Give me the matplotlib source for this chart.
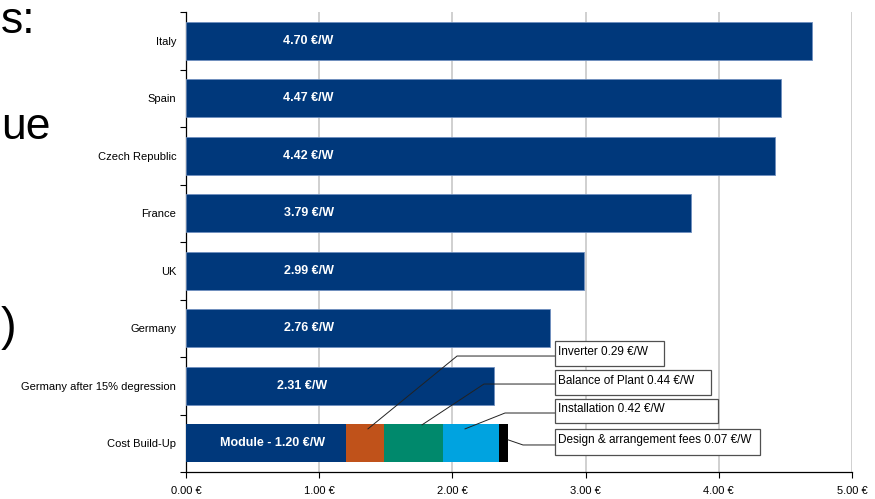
import matplotlib.pyplot as plt
from matplotlib.patches import Rectangle

# data
countries = ['Italy', 'Spain', 'Czech Republic', 'France', 'UK', 'Germany',
             'Germany after 15% degression', 'Cost Build-Up']
costs = [4.70, 4.47, 4.42, 3.79, 2.99, 2.73, 2.31]
cost_labels = ['4.70 €/W', '4.47 €/W', '4.42 €/W', '3.79 €/W', '2.99 €/W', '2.76 €/W', '2.31 €/W']
parts = ['Module', 'Inverter', 'Balance of Plant', 'Installation', 'Design & arrangement fees']
part_costs = [1.20, 0.29, 0.44, 0.42, 0.07]
part_colors = ['#00387b', '#c0521a', '#00896c', '#00a3e0', '#000000']
xticks = [0, 1, 2, 3, 4, 5]

font = ['Liberation Sans', 'DejaVu Sans']
navy = '#00387b'

fig = plt.figure(figsize=(8.75, 4.99), dpi=100)
ax = fig.add_axes([186 / 875, 1 - 472 / 499, 666 / 875, 460 / 499])

n = len(countries)
ypos = [n - 1 - i for i in range(n)]  # Italy on top

# country bars
for i, c in enumerate(costs):
    ax.barh(ypos[i], c, height=0.66, color=navy, edgecolor='#6f8fbf', linewidth=0.6, zorder=3)
    xl = 0.87 if i == 6 else 0.92
    ax.text(xl, ypos[i], cost_labels[i], color='white', fontweight='bold',
            ha='center', va='center', fontsize=9, family=font, zorder=4)

# cost build-up stack
left = 0
for name, v, col in zip(parts, part_costs, part_colors):
    ax.barh(ypos[-1], v, left=left, height=0.66, color=col, linewidth=0, zorder=3)
    left += v
ax.text(0.65, ypos[-1], f'Module - {part_costs[0]:.2f} €/W', color='white', fontweight='bold',
        ha='center', va='center', fontsize=9, family=font, zorder=4)

# call-out boxes with leader lines: (start, elbow, box bottom, box top, box width)
callouts = [
    ((1.366, 0.25), (2.035, 1.517), 1.343, 1.778, 0.818),
    ((1.772, 0.32), (2.237, 1.030), 0.839, 1.274, 1.171),
    ((2.095, 0.25), (2.395, 0.526), 0.352, 0.770, 1.224),
    ((2.417, 0.06), (2.530, -0.030), -0.204, 0.248, 1.539),
]
box_x = 2.77
for (start, elbow, yb, yt, w), name, v in zip(callouts, parts[1:], part_costs[1:]):
    ax.plot([start[0], elbow[0], box_x], [start[1], elbow[1], elbow[1]],
            color='#222222', lw=0.7, zorder=5)
    ax.add_patch(Rectangle((box_x, yb), w, yt - yb, fc='white', ec='#505050', lw=0.9, zorder=6))
    ax.text(box_x + 0.025, (yb + yt) / 2 + 0.03, f'{name} {v:.2f} €/W', ha='left', va='center',
            fontsize=8.5, family=font, zorder=7)

ax.set_xlim(0, 5)
ax.set_ylim(-0.5, n - 0.5)
ax.set_xticks(xticks)
ax.set_xticklabels([f'{t:.2f} €' for t in xticks], fontsize=8, family=font)
ax.set_yticks(ypos)
ax.set_yticklabels(countries, fontsize=8, family=font)
ax.set_yticks([k - 0.5 for k in range(n + 1)], minor=True)
ax.tick_params(axis='y', which='major', length=0, pad=7)
ax.tick_params(axis='y', which='minor', length=4, width=0.8, direction='out')
ax.tick_params(axis='x', length=4, width=0.8, direction='out', pad=6)
ax.xaxis.grid(True, color='#c8c8c8', lw=1.2, zorder=0)
ax.spines['top'].set_visible(False)
ax.spines['right'].set_visible(False)
ax.spines['left'].set_linewidth(0.9)
ax.spines['bottom'].set_linewidth(0.9)

# leftover slide text at the left edge
fig.text(1 / 875, 1 - 33 / 499, 's:', ha='left', va='baseline', fontsize=32, family=font)
fig.text(1 / 875, 1 - 139 / 499, 'ue', ha='left', va='baseline', fontsize=32, family=font)
fig.text(1 / 875, 1 - 328 / 499, ')', ha='left', va='center', fontsize=34, family=font)

fig.savefig('out.png', dpi=100)
